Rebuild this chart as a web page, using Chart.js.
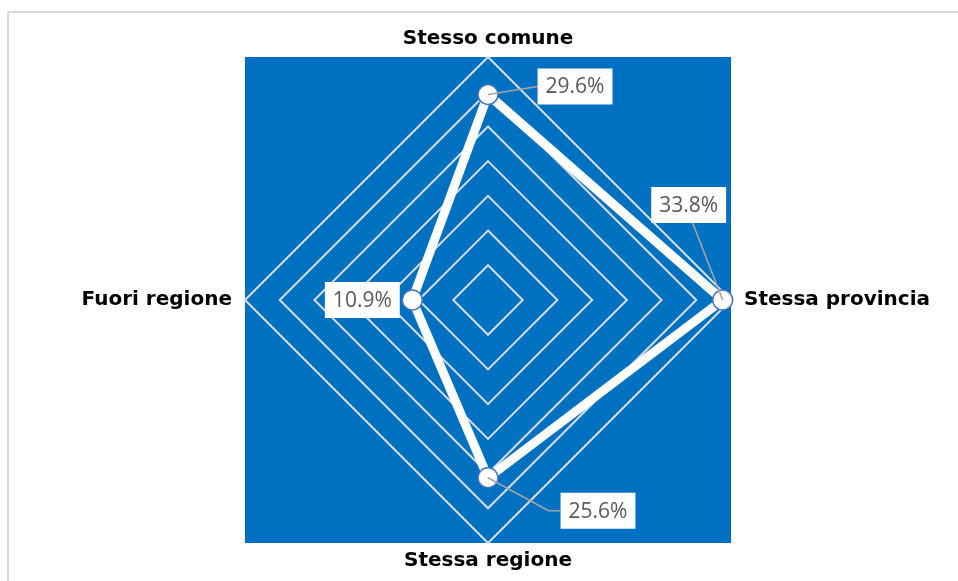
<!DOCTYPE html>
<html>
<head>
<meta charset="utf-8">
<script src="https://cdn.jsdelivr.net/npm/chart.js@4/dist/chart.umd.min.js"></script>
<style>
  html, body { margin: 0; padding: 0; background: #fff; }
  #wrap { position: relative; width: 958px; height: 581px; }
  #cornice { position: absolute; left: 7px; top: 11px; right: 0; bottom: 0;
             border-top: 2px solid #dadada; border-left: 2px solid #dadada; }
  canvas { position: absolute; left: 0; top: 0; }
</style>
</head>
<body>
<div id="wrap">
  <div id="cornice"></div>
  <canvas id="radar" width="958" height="581"></canvas>
</div>
<script>
// Dati
const categorie = ['Stesso comune', 'Stessa provincia', 'Stessa regione', 'Fuori regione'];
const valori = [29.6, 33.8, 25.6, 10.9];
const scalaMin = 0;
const scalaMax = 35;
const scalaPasso = 5;

// posizione delle etichette rispetto al punto (solo stile)
const posEtichette = [
    { dx: 87, dy: -8, leader: 'sinistra' },
    { dx: -34, dy: -95, leader: 'sotto' },
    { dx: 110, dy: 33, leader: 'gomito' },
    { dx: -50, dy: 0, leader: 'nessuno' }
];

const BLU = '#0070c0';

// sfondo blu quadrato attorno al rombo esterno
const sfondoBlu = {
    id: 'sfondoBlu',
    beforeDraw(chart) {
        const s = chart.scales.r;
        const ctx = chart.ctx;
        const r = s.drawingArea;
        ctx.save();
        ctx.fillStyle = BLU;
        ctx.fillRect(s.xCenter - r, s.yCenter - r, r * 2, r * 2);
        ctx.restore();
    }
};

// etichette dati con riquadro bianco e linea guida
const etichetteDati = {
    id: 'etichetteDati',
    afterDatasetsDraw(chart) {
        const ctx = chart.ctx;
        const meta = chart.getDatasetMeta(0);
        ctx.save();
        ctx.font = '21px "Open Sans", sans-serif';
        ctx.textAlign = 'center';
        ctx.textBaseline = 'middle';
        meta.data.forEach((pt, i) => {
            const p = posEtichette[i];
            const testo = valori[i].toFixed(1) + '%';
            const w = ctx.measureText(testo).width + 16;
            const h = 36;
            const cx = pt.x + p.dx;
            const cy = pt.y + p.dy;
            // linea guida
            ctx.strokeStyle = '#a5a5a5';
            ctx.lineWidth = 1.6;
            ctx.beginPath();
            if (p.leader === 'sinistra') {
                ctx.moveTo(pt.x, pt.y);
                ctx.lineTo(cx - w / 2, cy);
            } else if (p.leader === 'sotto') {
                ctx.moveTo(pt.x, pt.y);
                ctx.lineTo(cx + 4, cy + h / 2);
            } else if (p.leader === 'gomito') {
                ctx.moveTo(pt.x, pt.y);
                ctx.lineTo(cx - w / 2 - 12, cy);
                ctx.lineTo(cx - w / 2, cy);
            }
            ctx.stroke();
            ctx.fillStyle = '#ffffff';
            ctx.fillRect(cx - w / 2, cy - h / 2, w, h);
            ctx.fillStyle = '#595959';
            ctx.fillText(testo, cx, cy + 1);
        });
        ctx.restore();
    }
};

const ctx = document.getElementById('radar').getContext('2d');
new Chart(ctx, {
    type: 'radar',
    data: {
        labels: categorie,
        datasets: [{
            data: valori,
            borderColor: '#ffffff',
            borderWidth: 9,
            backgroundColor: 'rgba(0,0,0,0)',
            fill: false,
            tension: 0,
            pointRadius: 10,
            pointBackgroundColor: '#ffffff',
            pointBorderColor: '#4472c4',
            pointBorderWidth: 1.5
        }]
    },
    options: {
        responsive: false,
        animation: false,
        layout: { padding: { left: 26, right: 0, top: 27, bottom: 8 } },
        plugins: {
            legend: { display: false },
            tooltip: { enabled: false }
        },
        scales: {
            r: {
                min: scalaMin,
                max: scalaMax,
                ticks: { stepSize: scalaPasso, display: false },
                angleLines: { display: false },
                grid: { circular: false, color: '#d6dce4', lineWidth: 2 },
                pointLabels: {
                    padding: (c) => (c.index % 2 ? 13 : 6),
                    color: '#000000',
                    font: { family: '"DejaVu Sans"', size: 20, weight: 'bold' }
                }
            }
        }
    },
    plugins: [sfondoBlu, etichetteDati]
});
</script>
</body>
</html>
